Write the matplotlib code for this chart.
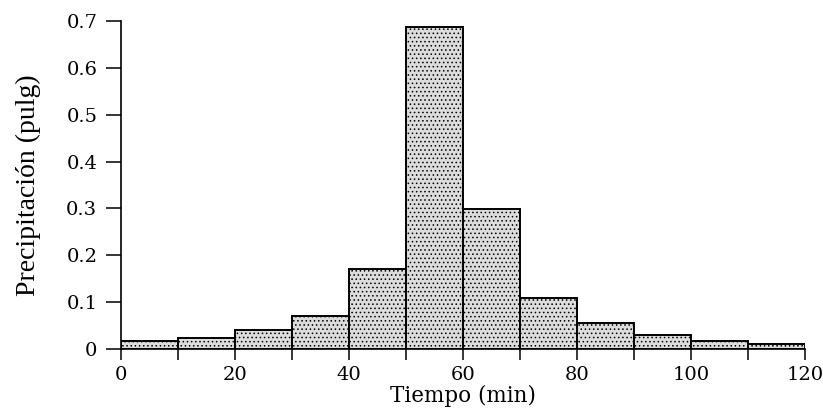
import numpy as np
import matplotlib.pyplot as plt

# Hyetograph data (10-min intervals)
t_start = [0, 10, 20, 30, 40, 50, 60, 70, 80, 90, 100, 110]
precip = [0.018, 0.023, 0.040, 0.071, 0.170, 0.687, 0.298, 0.108, 0.055, 0.029, 0.017, 0.011]
x_ticks = [0, 20, 40, 60, 80, 100, 120]
y_ticks = [0, 0.1, 0.2, 0.3, 0.4, 0.5, 0.6, 0.7]
y_labels = ['0', '0.1', '0.2', '0.3', '0.4', '0.5', '0.6', '0.7']

plt.rcParams['font.family'] = ['DejaVu Serif']
plt.rcParams['hatch.color'] = '#9a9a9a'
plt.rcParams['hatch.linewidth'] = 0.6

fig = plt.figure(figsize=(8.23, 4.18), dpi=100)
ax = fig.add_axes([0.147, 0.165, 0.831, 0.785])

ax.bar(t_start, precip, width=10, align='edge', facecolor='#dcdcdc',
       edgecolor='black', linewidth=1.4, hatch='....')

ax.set_xlim(0, 120)
ax.set_ylim(0, 0.7)
ax.spines['top'].set_visible(False)
ax.spines['right'].set_visible(False)
ax.spines['left'].set_linewidth(1.2)
ax.spines['bottom'].set_linewidth(1.2)

ax.set_xticks(x_ticks)
ax.set_xticks(np.arange(10, 120, 20), minor=True)
ax.set_yticks(y_ticks)
ax.set_yticklabels(y_labels)
ax.tick_params(axis='both', which='both', direction='out', width=1.1, labelsize=14)
ax.tick_params(axis='x', which='both', length=8, pad=4)
ax.tick_params(axis='y', which='both', length=11, pad=6)

ax.set_xlabel('Tiempo (min)', fontsize=15.5, labelpad=1)
ax.set_ylabel('Precipitación (pulg)', fontsize=20, family='Liberation Serif', labelpad=18)

fig.savefig('out.png', dpi=100)
